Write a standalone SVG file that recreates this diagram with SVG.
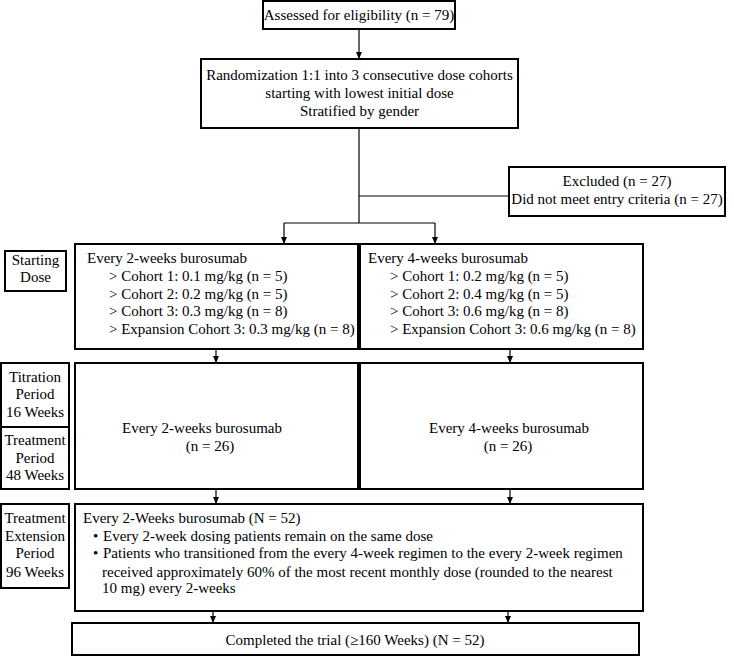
<svg xmlns="http://www.w3.org/2000/svg" width="734" height="657" viewBox="0 0 734 657">
<style>
text{font-family:'Liberation Serif',serif;font-size:15px;fill:#000}
.m{text-anchor:middle}
.b{fill:#fff;stroke:#000;stroke-width:2}
.c{fill:none;stroke:#000;stroke-width:1.2}
</style>
<defs>
<marker id="ah" markerWidth="7" markerHeight="6" refX="7" refY="3" orient="auto" markerUnits="userSpaceOnUse">
<path d="M0,0 L7,3 L0,6 z" fill="#000"/>
</marker>
</defs>
<rect width="734" height="657" fill="#fff"/>
<g id="connectors">
<path class="c" d="M359,29 V59" marker-end="url(#ah)"/>
<path class="c" d="M359,128 V223"/>
<path class="c" d="M359,196 H509"/>
<path class="c" d="M284,223 H435"/>
<path class="c" d="M284,223 V244" marker-end="url(#ah)"/>
<path class="c" d="M435,223 V244" marker-end="url(#ah)"/>
<path class="c" d="M216,349 V363" marker-end="url(#ah)"/>
<path class="c" d="M510,349 V363" marker-end="url(#ah)"/>
<path class="c" d="M216,489 V504" marker-end="url(#ah)"/>
<path class="c" d="M510,489 V504" marker-end="url(#ah)"/>
<path class="c" d="M213,611 V623" marker-end="url(#ah)"/>
<path class="c" d="M508,611 V623" marker-end="url(#ah)"/>
</g>
<g id="assessed">
<rect class="b" x="263" y="1" width="192" height="28"/>
<text class="m" x="359" y="20">Assessed for eligibility (n = 79)</text>
</g>
<g id="randomization">
<rect class="b" x="201" y="59" width="317" height="69"/>
<text class="m" x="359.5" y="80">Randomization 1:1 into 3 consecutive dose cohorts</text>
<text class="m" x="359.5" y="98">starting with lowest initial dose</text>
<text class="m" x="359.5" y="116">Stratified by gender</text>
</g>
<g id="excluded">
<rect class="b" x="509" y="167" width="216" height="49"/>
<text class="m" x="617" y="186">Excluded (n = 27)</text>
<text class="m" x="617" y="204">Did not meet entry criteria (n = 27)</text>
</g>
<g id="label-starting">
<rect class="b" x="5" y="251" width="61" height="40"/>
<text class="m" x="35.5" y="265">Starting</text>
<text class="m" x="35.5" y="282">Dose</text>
</g>
<g id="start-q2w">
<rect class="b" x="75" y="244" width="283" height="105"/>
<text x="87" y="263">Every 2-weeks burosumab</text>
<text x="109" y="281">&gt; Cohort 1: 0.1 mg/kg (n = 5)</text>
<text x="109" y="299">&gt; Cohort 2: 0.2 mg/kg (n = 5)</text>
<text x="109" y="316">&gt; Cohort 3: 0.3 mg/kg (n = 8)</text>
<text x="109" y="334">&gt; Expansion Cohort 3: 0.3 mg/kg (n = 8)</text>
</g>
<g id="start-q4w">
<rect class="b" x="360" y="244" width="283" height="105"/>
<text x="368" y="263">Every 4-weeks burosumab</text>
<text x="390" y="281">&gt; Cohort 1: 0.2 mg/kg (n = 5)</text>
<text x="390" y="299">&gt; Cohort 2: 0.4 mg/kg (n = 5)</text>
<text x="390" y="316">&gt; Cohort 3: 0.6 mg/kg (n = 8)</text>
<text x="390" y="334">&gt; Expansion Cohort 3: 0.6 mg/kg (n = 8)</text>
</g>
<g id="label-titration">
<rect class="b" x="1" y="363" width="68" height="64"/>
<text class="m" x="35" y="382">Titration</text>
<text class="m" x="35" y="399">Period</text>
<text class="m" x="35" y="417">16 Weeks</text>
</g>
<g id="label-treatment">
<rect class="b" x="1" y="427" width="68" height="62"/>
<text class="m" x="35" y="445">Treatment</text>
<text class="m" x="35" y="463">Period</text>
<text class="m" x="35" y="480">48 Weeks</text>
</g>
<g id="treat-q2w">
<rect class="b" x="75" y="363" width="283" height="126"/>
<text class="m" x="202" y="433">Every 2-weeks burosumab</text>
<text class="m" x="210" y="451">(n = 26)</text>
</g>
<g id="treat-q4w">
<rect class="b" x="360" y="363" width="283" height="126"/>
<text class="m" x="509" y="433">Every 4-weeks burosumab</text>
<text class="m" x="508" y="451">(n = 26)</text>
</g>
<g id="label-extension">
<rect class="b" x="1" y="504" width="68" height="84"/>
<text class="m" x="35" y="523">Treatment</text>
<text class="m" x="35" y="541">Extension</text>
<text class="m" x="35" y="558">Period</text>
<text class="m" x="35" y="577">96 Weeks</text>
</g>
<g id="extension">
<rect class="b" x="75" y="504" width="568" height="107"/>
<text x="83" y="523">Every 2-Weeks burosumab (N = 52)</text>
<text x="93" y="541">•</text>
<text x="103" y="541">Every 2-week dosing patients remain on the same dose</text>
<text x="93" y="558">•</text>
<text x="103" y="558">Patients who transitioned from the every 4-week regimen to the every 2-week regimen</text>
<text x="102" y="577">received approximately 60% of the most recent monthly dose (rounded to the nearest</text>
<text x="102" y="593">10 mg) every 2-weeks</text>
</g>
<g id="completed">
<rect class="b" x="72" y="623" width="567" height="32"/>
<text class="m" x="355" y="645">Completed the trial (≥160 Weeks) (N = 52)</text>
</g>
</svg>
